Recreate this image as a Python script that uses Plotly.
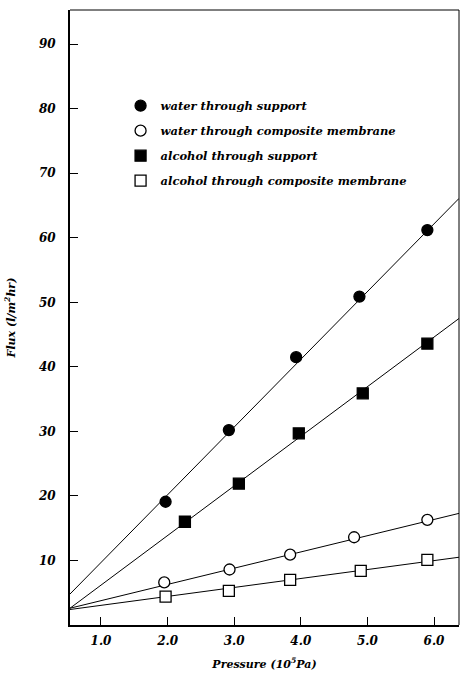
import plotly.graph_objects as go

# Data
pressure_ws = [1.97, 2.92, 3.93, 4.88, 5.90]
flux_ws = [19.1, 30.2, 41.5, 50.9, 61.2]
pressure_wc = [1.95, 2.93, 3.84, 4.80, 5.90]
flux_wc = [6.6, 8.6, 10.9, 13.6, 16.3]
pressure_as = [2.26, 3.07, 3.97, 4.93, 5.90]
flux_as = [16.0, 21.9, 29.7, 35.9, 43.6]
pressure_ac = [1.97, 2.92, 3.84, 4.90, 5.90]
flux_ac = [4.4, 5.3, 7.0, 8.4, 10.1]

# Fitted straight lines (value at left and right edge of the plot)
line_x = [0.535, 6.375]
line_ws = [4.8, 66.1]
line_wc = [2.6, 17.3]
line_as = [2.6, 47.5]
line_ac = [2.4, 10.5]

names = ["water through support", "water through composite membrane",
         "alcohol through support", "alcohol through composite membrane"]
x_ticks = [1, 2, 3, 4, 5, 6]
x_tick_text = ["1.0", "2.0", "3.0", "4.0", "5.0", "6.0"]
y_ticks = [10, 20, 30, 40, 50, 60, 70, 80, 90]

FONT = "DejaVu Serif"
fig = go.Figure()

for ly in [line_ws, line_wc, line_as, line_ac]:
    fig.add_trace(go.Scatter(x=line_x, y=ly, mode="lines", showlegend=False,
                             line=dict(color="black", width=1), hoverinfo="skip"))

series = [
    (pressure_ws, flux_ws, "circle", "black"),
    (pressure_wc, flux_wc, "circle", "white"),
    (pressure_as, flux_as, "square", "black"),
    (pressure_ac, flux_ac, "square", "white"),
]
for i, (px, py, sym, fill) in enumerate(series):
    fig.add_trace(go.Scatter(
        x=px, y=py, mode="markers", name=names[i], legendgroup=str(i),
        marker=dict(symbol=sym, size=11, color=fill,
                    line=dict(color="black", width=1.3))))

axis_font = dict(family=FONT, size=12, color="black", weight="bold", style="italic")
fig.update_layout(
    width=460, height=680,
    margin=dict(l=70, r=1, t=10, b=55),
    paper_bgcolor="white", plot_bgcolor="white",
    showlegend=True,
    legend=dict(x=0.13, y=0.868, xanchor="left", yanchor="top",
                bgcolor="rgba(0,0,0,0)", tracegroupgap=6,
                font=dict(family=FONT, size=11.5, color="black",
                          weight="bold", style="italic")),
    xaxis=dict(range=[0.535, 6.375], tickvals=x_ticks, ticktext=x_tick_text,
               ticks="inside", ticklen=8, tickwidth=1, tickcolor="black",
               showgrid=False, zeroline=False, showline=True, linecolor="black",
               linewidth=2, mirror=False, tickfont=axis_font, ticklabelstandoff=4,
               title=dict(text="Pressure (10<sup>5</sup>Pa)", standoff=13,
                          font=dict(family=FONT, size=11, color="black",
                                    weight="bold", style="italic"))),
    yaxis=dict(range=[0, 95.3], tickvals=y_ticks,
               ticks="inside", ticklen=8, tickwidth=1, tickcolor="black",
               showgrid=False, zeroline=False, showline=True, linecolor="black",
               linewidth=2, mirror=False, tickfont=axis_font, ticklabelstandoff=10,
               title=dict(text="Flux (l/m<sup>2</sup>hr)", standoff=20,
                          font=dict(family=FONT, size=11, color="black",
                                    weight="bold", style="italic"))),
    shapes=[
        dict(type="line", xref="paper", yref="paper", x0=0, x1=1, y0=1, y1=1,
             line=dict(color="black", width=1)),
        dict(type="line", xref="paper", yref="paper", x0=1, x1=1, y0=0, y1=1,
             line=dict(color="black", width=1)),
    ],
)

fig.write_html("out.html")
